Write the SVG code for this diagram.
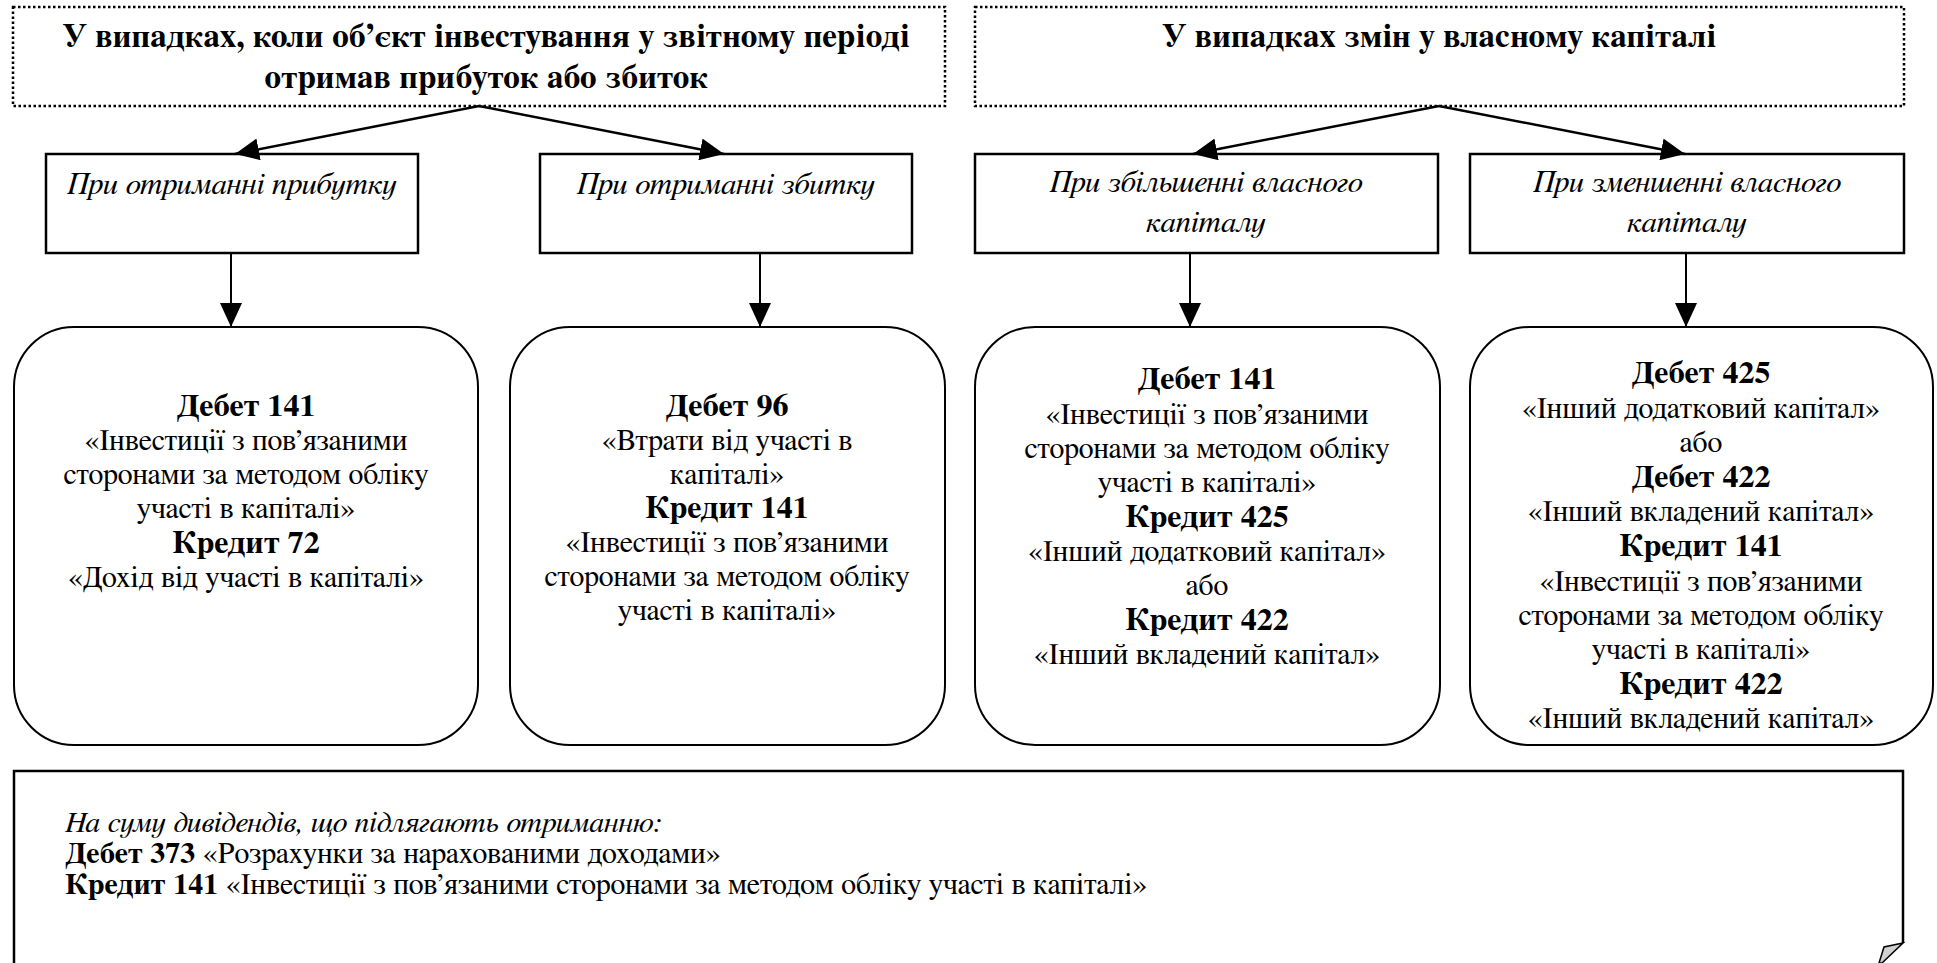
<svg xmlns="http://www.w3.org/2000/svg" width="1937" height="963" viewBox="0 0 1937 963">
<style>
text{font-family:FreeSerif,'Liberation Serif','DejaVu Serif',serif;fill:#000}
.title{font-weight:bold;font-size:33px;text-anchor:middle}
.sub{font-style:italic;font-size:31px;text-anchor:middle}
.reg{font-size:30px;text-anchor:middle}
.bold{font-weight:bold;font-size:32px;text-anchor:middle}
.bl{font-size:30px}
.dot{fill:#fff;stroke:#000;stroke-width:2.5;stroke-dasharray:2.5 2.5}
.box{fill:#fff;stroke:#000;stroke-width:2.5}
.rbox{fill:#fff;stroke:#000;stroke-width:2}
.con{fill:none;stroke:#000;stroke-width:2.5}
.vcon{fill:none;stroke:#000;stroke-width:2}
</style>
<defs>
<marker id="ah" viewBox="0 0 24 22" markerWidth="24" markerHeight="22" refX="24" refY="11" orient="auto" markerUnits="userSpaceOnUse">
<path d="M0,0 L24,11 L0,22 z" fill="#000"/>
</marker>
</defs>
<rect width="1937" height="963" fill="#fff"/>

<g id="title-left">
<rect class="dot" x="13" y="7" width="932" height="99"/>
<text class="title" x="486" y="47">У випадках, коли об’єкт інвестування у звітному періоді</text>
<text class="title" x="486" y="88">отримав прибуток або збиток</text>
</g>
<g id="title-right">
<rect class="dot" x="975" y="7" width="929" height="99"/>
<text class="title" x="1439" y="47">У випадках змін у власному капіталі</text>
</g>

<g id="sub-profit">
<rect class="box" x="46" y="154" width="372" height="99"/>
<text class="sub" x="232" y="194">При отриманні прибутку</text>
</g>
<g id="sub-loss">
<rect class="box" x="540" y="154" width="372" height="99"/>
<text class="sub" x="726" y="194">При отриманні збитку</text>
</g>
<g id="sub-increase">
<rect class="box" x="975" y="154" width="463" height="99"/>
<text class="sub" x="1206" y="192">При збільшенні власного</text>
<text class="sub" x="1206" y="232">капіталу</text>
</g>
<g id="sub-decrease">
<rect class="box" x="1470" y="154" width="434" height="99"/>
<text class="sub" x="1687" y="192">При зменшенні власного</text>
<text class="sub" x="1687" y="232">капіталу</text>
</g>

<g id="entry-profit">
<rect class="rbox" x="14" y="327" width="464" height="418" rx="60" ry="60"/>
<text class="bold" x="246" y="416">Дебет 141</text>
<text class="reg" x="246" y="450">«Інвестиції з пов’язаними</text>
<text class="reg" x="246" y="484">сторонами за методом обліку</text>
<text class="reg" x="246" y="518">участі в капіталі»</text>
<text class="bold" x="246" y="553">Кредит 72</text>
<text class="reg" x="246" y="587">«Дохід від участі в капіталі»</text>
</g>
<g id="entry-loss">
<rect class="rbox" x="510" y="327" width="435" height="418" rx="60" ry="60"/>
<text class="bold" x="727" y="416">Дебет 96</text>
<text class="reg" x="727" y="450">«Втрати від участі в</text>
<text class="reg" x="727" y="484">капіталі»</text>
<text class="bold" x="727" y="518">Кредит 141</text>
<text class="reg" x="727" y="552">«Інвестиції з пов’язаними</text>
<text class="reg" x="727" y="586">сторонами за методом обліку</text>
<text class="reg" x="727" y="620">участі в капіталі»</text>
</g>
<g id="entry-increase">
<rect class="rbox" x="975" y="327" width="465" height="418" rx="60" ry="60"/>
<text class="bold" x="1207" y="389">Дебет 141</text>
<text class="reg" x="1207" y="424">«Інвестиції з пов’язаними</text>
<text class="reg" x="1207" y="458">сторонами за методом обліку</text>
<text class="reg" x="1207" y="492">участі в капіталі»</text>
<text class="bold" x="1207" y="527">Кредит 425</text>
<text class="reg" x="1207" y="561">«Інший додатковий капітал»</text>
<text class="reg" x="1207" y="595">або</text>
<text class="bold" x="1207" y="630">Кредит 422</text>
<text class="reg" x="1207" y="664">«Інший вкладений капітал»</text>
</g>
<g id="entry-decrease">
<rect class="rbox" x="1470" y="327" width="463" height="418" rx="60" ry="60"/>
<text class="bold" x="1701" y="383">Дебет 425</text>
<text class="reg" x="1701" y="418">«Інший додатковий капітал»</text>
<text class="reg" x="1701" y="452">або</text>
<text class="bold" x="1701" y="487">Дебет 422</text>
<text class="reg" x="1701" y="521">«Інший вкладений капітал»</text>
<text class="bold" x="1701" y="556">Кредит 141</text>
<text class="reg" x="1701" y="591">«Інвестиції з пов’язаними</text>
<text class="reg" x="1701" y="625">сторонами за методом обліку</text>
<text class="reg" x="1701" y="659">участі в капіталі»</text>
<text class="bold" x="1701" y="694">Кредит 422</text>
<text class="reg" x="1701" y="728">«Інший вкладений капітал»</text>
</g>

<g id="dividends">
<path class="box" d="M14,965 L14,771 L1903,771 L1903,943"/>
<path d="M1903,943 L1884,947 L1879,963 L1882,963 Z" fill="#d0d0d0" stroke="#000" stroke-width="1.5"/>
<text class="bl" x="65" y="832" font-style="italic">На суму дивідендів, що підлягають отриманню:</text>
<text class="bl" x="65" y="863"><tspan font-weight="bold">Дебет 373</tspan> «Розрахунки за нарахованими доходами»</text>
<text class="bl" x="65" y="894"><tspan font-weight="bold">Кредит 141</tspan> «Інвестиції з пов’язаними сторонами за методом обліку участі в капіталі»</text>
</g>

<g id="connectors">
<path class="con" d="M479,106 L235,154" marker-end="url(#ah)"/>
<path class="con" d="M479,106 L724,154" marker-end="url(#ah)"/>
<path class="con" d="M1439,106 L1193,154" marker-end="url(#ah)"/>
<path class="con" d="M1439,106 L1685,154" marker-end="url(#ah)"/>
<path class="vcon" d="M231,253 L231,327" marker-end="url(#ah)"/>
<path class="vcon" d="M760,253 L760,327" marker-end="url(#ah)"/>
<path class="vcon" d="M1190,253 L1190,327" marker-end="url(#ah)"/>
<path class="vcon" d="M1686,253 L1686,327" marker-end="url(#ah)"/>
</g>
</svg>
